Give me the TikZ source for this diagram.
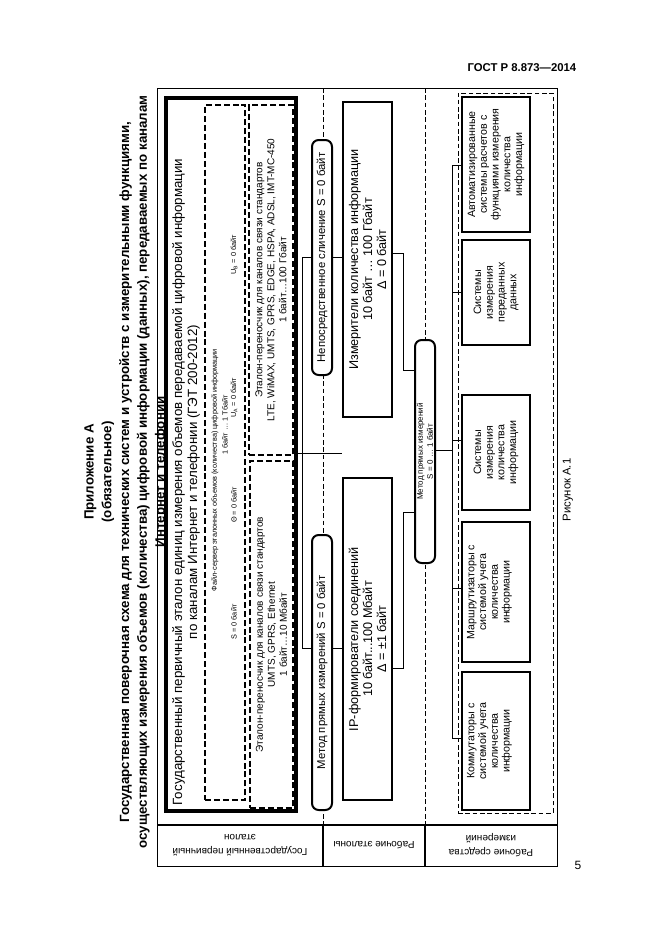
\documentclass[tikz,border=0pt]{standalone}
\usepackage{fontspec}
\setmainfont{Liberation Sans}
\usepackage{graphicx}
\usetikzlibrary{fit}
\newcommand{\fsz}[2]{\fontsize{#1}{#2}\selectfont}
\begin{document}
\begin{tikzpicture}[x=0.75pt,y=-0.75pt,
  rot/.style={rotate=90,align=center,inner sep=0pt},
  lab/.style={rotate=180,align=center,inner sep=0pt},
  boxfit/.style={inner sep=0pt},
  heavy/.style={draw,line width=1.7pt},
  rbox/.style={draw,line width=1.5pt,rounded corners=5pt,fill=white,inner sep=0pt},
  tdash/.style={draw,line width=1.4pt,dash pattern=on 4.5pt off 2.2pt},
  ldash/.style={line width=0.6pt,dash pattern=on 3.5pt off 2pt},
  conn/.style={line width=0.6pt}]
\fill[white] (0,0) rectangle (661,936);
\useasboundingbox (0,0) rectangle (661,936);

% header, page number
\node[anchor=east,font=\fsz{8.5}{10}\bfseries] (hdr) at (581,68) {ГОСТ Р 8.873—2014};
\node[font=\fsz{9}{10}] (pg) at (578,865) {5};

% title
\node[rot,font=\fsz{10}{13.3}\bfseries] (title) at (126,472) {Приложение А\\(обязательное)\\Государственная поверочная схема для технических систем и устройств с измерительными функциями,\\осуществляющих измерения объемов (количества) цифровой информации (данных), передаваемых по каналам\\Интернет и телефонии};

% frame and columns
\draw[line width=0.7pt] (157,88) rectangle (557,866);
\draw[line width=1.1pt] (157,825) -- (557,825);
\draw[line width=1.1pt] (323,825) -- (323,866);
\draw[line width=1.1pt] (425,825) -- (425,866);
\draw[ldash] (323,88) -- (323,825);
\draw[ldash] (425,88) -- (425,825);

% row labels
\node[lab,font=\fsz{7.5}{10}] (l1) at (240,845) {Государственный первичный\\эталон};
\node[lab,font=\fsz{7.5}{10}] (l2) at (374,845) {Рабочие эталоны};
\node[lab,font=\fsz{7.5}{10}] (l3) at (491,845) {Рабочие средства\\измерений};

% primary standard
\node[fit={(166,98)(296,811)},boxfit,draw,line width=2.6pt] (gpe) {};
\node[rot,font=\fsz{10}{11.25}] (gpet) at (186,482) {Государственный первичный эталон единиц измерения объемов передаваемой цифровой информации\\по каналам Интернет и телефонии (ГЭТ 200-2012)};

\node[fit={(205,105)(245,800)},boxfit,tdash] (fs) {};
\node[rot,font=\fsz{5.5}{6}] (fst) at (215,470) {Файл-сервер эталонных объемов (количества) цифровой информации};
\node[rot,font=\fsz{5.5}{6}] (fsr) at (225,425) {1 байт … 1 Тбайт};
\node[rot,font=\fsz{5.5}{6}] (fss) at (234,622) {S = 0 байт};
\node[rot,font=\fsz{5.5}{6}] (fsth) at (234,505) {Θ = 0 байт};
\node[rot,font=\fsz{5.5}{6}] (fsua) at (234,398) {U\textsubscript{A} = 0 байт};
\node[rot,font=\fsz{5.5}{6}] (fsub) at (234,255) {U\textsubscript{B} = 0 байт};

\node[fit={(249,105)(293,455)},boxfit,tdash] (lte) {};
\node[rot,font=\fsz{7.5}{9}] (ltet) at (lte.center) {Эталон-переносчик для каналов связи стандартов\\LTE, WiMAX, UMTS, GPRS, EDGE, HSPA, ADSL, IMT-MC-450\\1 байт…100 Гбайт};
\node[fit={(250,461)(293,808)},boxfit,tdash] (umts) {};
\node[rot,font=\fsz{7.5}{9}] (umtst) at (umts.center) {Эталон-переносчик для каналов связи стандартов\\UMTS, GPRS, Ethernet\\1 байт…10 Мбайт};

% working standards
\node[fit={(343,102)(392,417)},boxfit,heavy] (meas) {};
\node[rot,font=\fsz{9.5}{10.5}] (meast) at (meas.center) {Измерители количества информации\\10 байт … 100 Гбайт\\Δ = 0 байт};
\node[fit={(343,478)(392,800)},boxfit,heavy] (ipf) {};
\node[rot,font=\fsz{9.5}{10.5}] (ipft) at (ipf.center) {IP-формирователи соединений\\10 байт...100 Мбайт\\Δ = ±1 байт};

% connectors col1 -> col2
\coordinate (j1) at (302,453);
\coordinate (b1t) at (302,257);
\coordinate (b1b) at (302,648);
\draw[conn] (gpe.east |- j1) -- (meas.west |- j1);
\draw[conn] (b1t) -- (b1b);

\node[fit={(312,140)(332,375)},rbox] (nep) {};
\node[rot,font=\fsz{8.5}{9}] (nept) at (nep.center) {Непосредственное сличение S = 0 байт};
\node[fit={(312,535)(332,810)},rbox] (met1) {};
\node[rot,font=\fsz{8.5}{9}] (met1t) at (met1.center) {Метод прямых измерений S = 0 байт};

\draw[conn] (b1t) -- (nep.west |- b1t);
\draw[conn] (b1b) -- (met1.west |- b1b);
\draw[conn] (nep.east |- b1t) -- (meas.west |- b1t);
\draw[conn] (met1.east |- b1b) -- (ipf.west |- b1b);

% col2 -> method 2
\node[fit={(415,340)(435,563)},rbox] (met2) {};
\node[rot,font=\fsz{6}{7.5}] (met2t) at (met2.center) {Метод прямых измерений\\S = 0 … 1 байт};
\coordinate (b2a) at (403,253);
\coordinate (b2b) at (403,370);
\coordinate (b2c) at (403,512);
\coordinate (b2d) at (403,668);
\draw[conn] (meas.east |- b2a) -- (b2a) -- (b2b) -- (met2.west |- b2b);
\draw[conn] (ipf.east |- b2d) -- (b2d) -- (b2c) -- (met2.west |- b2c);

% working instruments
\node[fit={(458,93)(553,813)},boxfit,draw,ldash] (c3) {};
\node[fit={(462,97)(530,232)},boxfit,heavy] (s1) {};
\node[fit={(462,240)(530,345)},boxfit,heavy] (s2) {};
\node[fit={(462,395)(530,510)},boxfit,heavy] (s3) {};
\node[fit={(462,522)(530,662)},boxfit,heavy] (s4) {};
\node[fit={(462,672)(530,810)},boxfit,heavy] (s5) {};
\node[rot,font=\fsz{8}{8.8}] (s1t) at (s1.center) {Автоматизированные\\системы расчетов с\\функциями измерения\\количества\\информации};
\node[rot,font=\fsz{8}{8.8}] (s2t) at (s2.center) {Системы\\измерения\\переданных\\данных};
\node[rot,font=\fsz{8}{8.8}] (s3t) at (s3.center) {Системы\\измерения\\количества\\информации};
\node[rot,font=\fsz{8}{8.8}] (s4t) at ([xshift=-5]s4.center) {Маршрутизаторы с\\системой учета\\количества\\информации};
\node[rot,font=\fsz{8}{8.8}] (s5t) at ([xshift=-5]s5.center) {Коммутаторы с\\системой учета\\количества\\информации};

\coordinate (b3) at (452,450);
\coordinate (t1) at (452,165);
\coordinate (t2) at (452,292);
\coordinate (t3) at (452,440);
\coordinate (t4) at (452,588);
\coordinate (t5) at (452,738);
\draw[conn] (met2.east |- b3) -- (b3);
\draw[conn] (t1) -- (t5);
\draw[conn] (t1) -- (s1.west |- t1);
\draw[conn] (t2) -- (s2.west |- t2);
\draw[conn] (t3) -- (s3.west |- t3);
\draw[conn] (t4) -- (s4.west |- t4);
\draw[conn] (t5) -- (s5.west |- t5);

% caption
\node[rot,font=\fsz{8.5}{10}] (cap) at (568,490) {Рисунок А.1};
\end{tikzpicture}
\end{document}
